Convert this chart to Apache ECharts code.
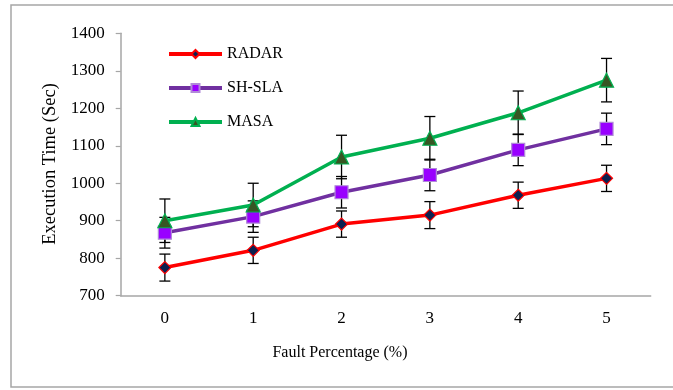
<!DOCTYPE html>
<html>
<head>
<meta charset="utf-8">
<script src="https://cdn.jsdelivr.net/npm/echarts@6/dist/echarts.min.js"></script>
<style>
    html, body { margin: 0; padding: 0; background: #fff; }
    #main { width: 673px; height: 390px; }
</style>
</head>
<body>
<div id="main"></div>
<script>
//数据
var categories = ['0', '1', '2', '3', '4', '5'];
var radar = [775, 821, 891, 915, 968, 1013];
var radarErr = [36, 35, 35, 36, 35, 35];
var shsla = [868, 911, 976, 1022, 1089, 1145];
var shslaErr = [41, 42, 42, 42, 42, 42];
var masa = [900, 942, 1070, 1120, 1188, 1275];
var masaErr = [58, 58, 58, 58, 58, 58];
var yTicks = [700, 1400, 100]; // min, max, interval

var font = '"Liberation Serif", "Times New Roman", serif';

//误差线数据
function errData(vals, errs) {
    return vals.map(function (v, i) {
        return [i, v - errs[i], v + errs[i]];
    });
}

//画误差线
function errorBar(params, api) {
    var lo = api.coord([api.value(0), api.value(1)]);
    var hi = api.coord([api.value(0), api.value(2)]);
    var w = 5.5;
    var st = { stroke: '#000', lineWidth: 1.3 };
    return {
        type: 'group',
        children: [
            { type: 'line', shape: { x1: hi[0], y1: hi[1], x2: lo[0], y2: lo[1] }, style: st },
            { type: 'line', shape: { x1: hi[0] - w, y1: hi[1], x2: hi[0] + w, y2: hi[1] }, style: st },
            { type: 'line', shape: { x1: lo[0] - w, y1: lo[1], x2: lo[0] + w, y2: lo[1] }, style: st }
        ]
    };
}

function lineSeries(name, data, color, symbol, size, fill, border) {
    return {
        name: name,
        type: 'line',
        data: data,
        z: 3,
        symbol: symbol,
        symbolSize: size,
        showAllSymbol: true,
        lineStyle: { color: color, width: 3.5 },
        itemStyle: { color: fill, borderColor: border, borderWidth: 1.2 }
    };
}

function errSeries(vals, errs) {
    return {
        type: 'custom',
        z: 2,
        silent: true,
        data: errData(vals, errs),
        renderItem: errorBar
    };
}

var myChart = echarts.init(document.getElementById('main'));
var option = {
    animation: false,
    backgroundColor: '#fff',
    grid: { left: 120.7, right: 22.3, top: 33.3, bottom: 94.3 },
    legend: {
        orient: 'vertical',
        left: 162,
        top: 41,
        itemWidth: 53,
        itemHeight: 10,
        itemGap: 18,
        data: ['RADAR', 'SH-SLA', 'MASA'],
        lineStyle: { width: 4 },
        textStyle: { fontFamily: font, fontSize: 16, color: '#000' }
    },
    graphic: [
        {
            type: 'rect',
            shape: { x: 11, y: 5, width: 700, height: 382 },
            style: { fill: 'none', stroke: '#a6a6a6', lineWidth: 1.5 },
            silent: true
        },
        {
            type: 'text',
            x: 340, y: 353,
            style: { text: 'Fault Percentage (%)', font: '16px ' + font, fill: '#000', align: 'center', verticalAlign: 'middle' }
        },
        {
            type: 'text',
            x: 50, y: 164,
            rotation: Math.PI / 2,
            style: { text: 'Execution Time (Sec)', font: '18.5px ' + font, fill: '#000', align: 'center', verticalAlign: 'middle' }
        }
    ],
    xAxis: {
        type: 'category',
        data: categories,
        boundaryGap: true,
        axisLine: { lineStyle: { color: '#a6a6a6', width: 1.5 } },
        axisTick: { show: false },
        axisLabel: { margin: 14, fontFamily: font, fontSize: 17, color: '#000' }
    },
    yAxis: {
        type: 'value',
        min: yTicks[0],
        max: yTicks[1],
        interval: yTicks[2],
        axisLine: { show: true, lineStyle: { color: '#a6a6a6', width: 1.5 } },
        axisTick: { show: true, length: 5, lineStyle: { color: '#a6a6a6', width: 1.2 } },
        splitLine: { show: false },
        axisLabel: {
            margin: 16, fontFamily: font, fontSize: 17, color: '#000',
            formatter: function (v) { return String(v); }
        }
    },
    series: [
        errSeries(radar, radarErr),
        errSeries(shsla, shslaErr),
        errSeries(masa, masaErr),
        lineSeries('RADAR', radar, '#ff0000', 'diamond', 12, '#0d2150', '#ff0000'),
        lineSeries('SH-SLA', shsla, '#7030a0', 'rect', 13, '#9900ff', '#b08ad8'),
        lineSeries('MASA', masa, '#00b050', 'triangle', 14, '#375623', '#00b050')
    ]
};
myChart.setOption(option);
</script>
</body>
</html>
